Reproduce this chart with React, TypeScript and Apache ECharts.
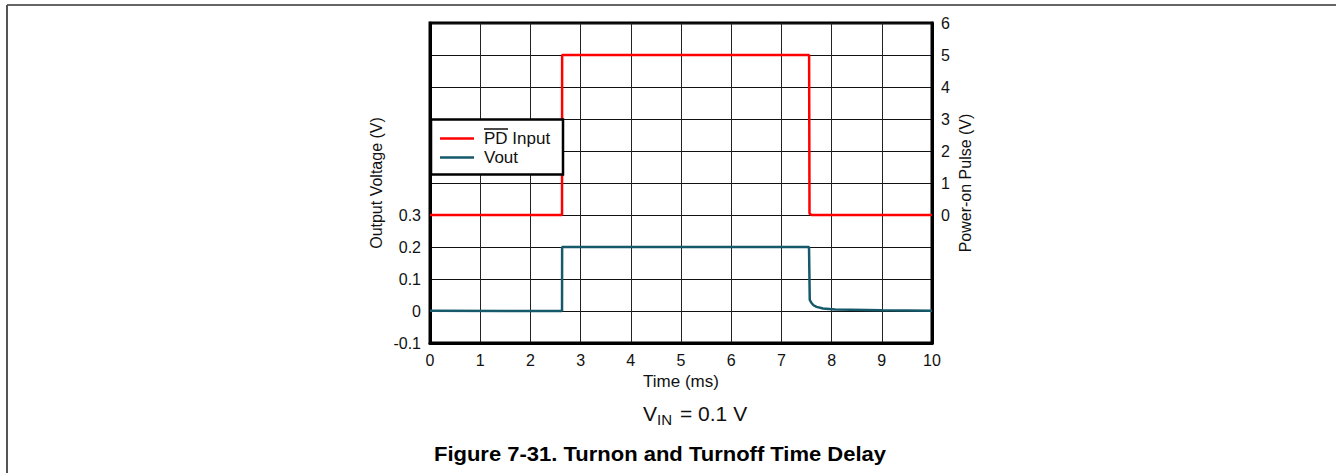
import React, { useEffect, useRef } from "react";
import * as echarts from "echarts";

const FONT = '"Liberation Sans", Arial, Helvetica, sans-serif';

// X axis: time (ms)
const xMin = 0;
const xMax = 10;
const xInterval = 1;

// Left axis: Output Voltage (V)
const leftMin = -0.1;
const leftMax = 0.9;
const leftInterval = 0.1;
const leftLabelMax = 0.3;

// Right axis: Power-on Pulse (V)
const rightMin = -4;
const rightMax = 6;
const rightInterval = 1;
const rightLabelMin = 0;

// PD Input (right axis)
const pdTime = [0, 2.63, 2.632, 7.552, 7.56, 7.6, 10];
const pdValue = [0, 0, 5, 5, 0.05, 0, 0];

// Vout (left axis)
const voutTime = [0, 1.5, 2.63, 2.632, 7.55, 7.565, 7.6, 7.64, 7.7, 7.83, 8.07, 9.0, 10];
const voutValue = [0.001, 0, 0, 0.2, 0.2, 0.035, 0.025, 0.018, 0.013, 0.008, 0.005, 0.002, 0.001];

const legendNames = ["PD Input", "Vout"];
const seriesColors = ["#ff0000", "#15596a"];

export default function App() {
  const ref = useRef<HTMLDivElement>(null);

  useEffect(() => {
    if (!ref.current) return;
    const chart = echarts.init(ref.current, undefined, { renderer: "svg" });

    const pdData = pdTime.map((t, i) => [t, pdValue[i]]);
    const voutData = voutTime.map((t, i) => [t, voutValue[i]]);

    chart.setOption({
      animation: false,
      backgroundColor: "#ffffff",
      grid: {
        left: 430,
        right: 404,
        top: 23,
        bottom: 130,
        show: true,
        borderColor: "#000",
        borderWidth: 3,
        backgroundColor: "transparent",
      },
      xAxis: {
        type: "value",
        min: xMin,
        max: xMax,
        interval: xInterval,
        name: "Time (ms)",
        nameLocation: "middle",
        nameGap: 29,
        nameTextStyle: { fontFamily: FONT, fontSize: 17, color: "#111" },
        axisLine: { show: true, onZero: false, lineStyle: { color: "#000", width: 3 } },
        axisTick: { show: false },
        axisLabel: { fontFamily: FONT, fontSize: 16, color: "#111", margin: 9 },
        splitLine: { show: true, lineStyle: { color: "#222", width: 1 } },
      },
      yAxis: [
        {
          type: "value",
          position: "left",
          min: leftMin,
          max: leftMax,
          interval: leftInterval,
          name: "Output Voltage (V)",
          nameLocation: "middle",
          nameGap: 46,
          nameRotate: 90,
          nameTextStyle: { fontFamily: FONT, fontSize: 16, color: "#111" },
          axisLine: { show: true, onZero: false, lineStyle: { color: "#000", width: 3 } },
          axisTick: { show: false },
          axisLabel: {
            fontFamily: FONT,
            fontSize: 16,
            color: "#111",
            margin: 9,
            formatter: (v: number) => {
              if (v > leftLabelMax + 1e-6) return "";
              const r = Math.round(v * 10) / 10;
              return r === 0 ? "0" : r.toFixed(1);
            },
          },
          splitLine: { show: true, lineStyle: { color: "#111", width: 1 } },
        },
        {
          type: "value",
          position: "right",
          min: rightMin,
          max: rightMax,
          interval: rightInterval,
          name: "Power-on Pulse (V)",
          nameLocation: "middle",
          nameGap: 25,
          nameRotate: 90,
          nameTextStyle: { fontFamily: FONT, fontSize: 16, color: "#111" },
          axisLine: { show: true, onZero: false, lineStyle: { color: "#000", width: 3 } },
          axisTick: { show: false },
          axisLabel: {
            fontFamily: FONT,
            fontSize: 16,
            color: "#111",
            margin: 9,
            formatter: (v: number) => (v < rightLabelMin - 1e-6 ? "" : String(Math.round(v))),
          },
          splitLine: { show: false },
        },
      ],
      series: [
        {
          name: legendNames[0],
          type: "line",
          yAxisIndex: 1,
          data: pdData,
          showSymbol: false,
          symbol: "none",
          lineStyle: { color: seriesColors[0], width: 2.5 },
          z: 3,
        },
        {
          name: legendNames[1],
          type: "line",
          yAxisIndex: 0,
          data: voutData,
          showSymbol: false,
          symbol: "none",
          lineStyle: { color: seriesColors[1], width: 2.5 },
          z: 3,
        },
      ],
      graphic: [
        // figure frame (top and left)
        { type: "line", z: 100, shape: { x1: 7, y1: 5, x2: 1336, y2: 5 }, style: { stroke: "#333", lineWidth: 1.5 } },
        { type: "line", z: 100, shape: { x1: 7, y1: 5, x2: 7, y2: 473 }, style: { stroke: "#555", lineWidth: 2 } },
        // legend box
        {
          type: "rect",
          z: 100,
          shape: { x: 431, y: 119.5, width: 132, height: 55 },
          style: { fill: "#fff", stroke: "#000", lineWidth: 2.5 },
        },
        { type: "line", z: 101, shape: { x1: 440, y1: 138.5, x2: 474, y2: 138.5 }, style: { stroke: seriesColors[0], lineWidth: 2.5 } },
        { type: "line", z: 101, shape: { x1: 440, y1: 157.5, x2: 474, y2: 157.5 }, style: { stroke: seriesColors[1], lineWidth: 2.5 } },
        {
          type: "text",
          z: 101,
          x: 484,
          y: 138,
          style: { text: legendNames[0], fontFamily: FONT, fontSize: 17, fill: "#111", align: "left", verticalAlign: "middle" },
        },
        { type: "line", z: 101, shape: { x1: 484, y1: 129, x2: 508, y2: 129 }, style: { stroke: "#111", lineWidth: 1.5 } },
        {
          type: "text",
          z: 101,
          x: 484,
          y: 157,
          style: { text: legendNames[1], fontFamily: FONT, fontSize: 17, fill: "#111", align: "left", verticalAlign: "middle" },
        },
        // V_IN annotation
        {
          type: "text",
          z: 101,
          x: 643,
          y: 413,
          style: { text: "V", fontFamily: FONT, fontSize: 21, fill: "#111", align: "left", verticalAlign: "middle" },
        },
        {
          type: "text",
          z: 101,
          x: 657,
          y: 419,
          style: { text: "IN", fontFamily: FONT, fontSize: 15, fill: "#111", align: "left", verticalAlign: "middle" },
        },
        {
          type: "text",
          z: 101,
          x: 680,
          y: 413,
          style: { text: "= 0.1 V", fontFamily: FONT, fontSize: 21, fill: "#111", align: "left", verticalAlign: "middle" },
        },
        // caption
        {
          type: "text",
          z: 101,
          x: 660,
          y: 454,
          scaleX: 1.1,
          style: {
            text: "Figure 7-31. Turnon and Turnoff Time Delay",
            fontFamily: FONT,
            fontSize: 20,
            fontWeight: "bold",
            fill: "#000",
            align: "center",
            verticalAlign: "middle",
          },
        },
      ],
    });

    return () => {
      chart.dispose();
    };
  }, []);

  return (
    <div
      ref={ref}
      style={{ position: "absolute", left: 0, top: 0, width: 1336, height: 473, background: "#fff" }}
    />
  );
}
